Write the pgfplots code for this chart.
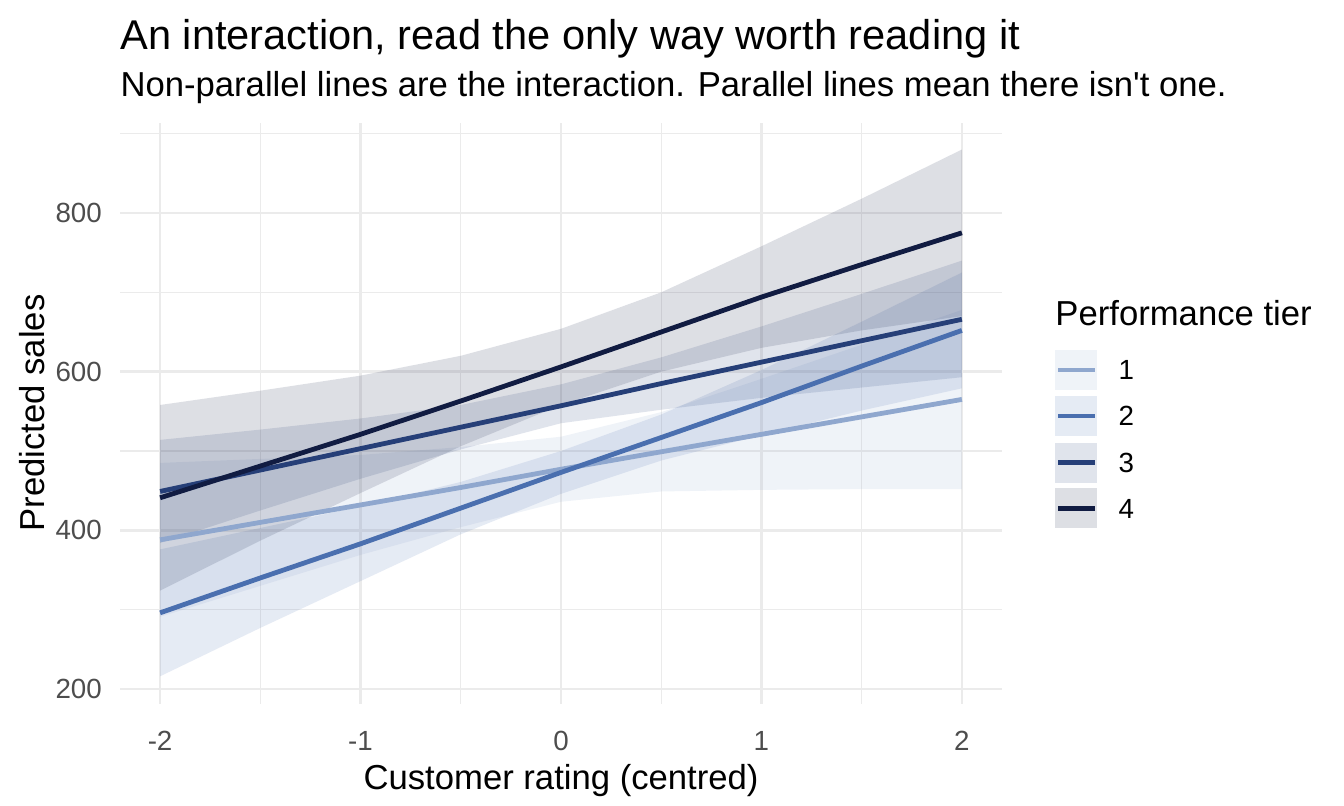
\documentclass[border=0pt]{standalone}
\usepackage{fontspec}
\setmainfont{Liberation Sans}
\usepackage{pgfplots}
\pgfplotsset{compat=1.18}
\usepackage{pgfplotstable}
\usepgfplotslibrary{fillbetween}
\definecolor{c1}{RGB}{143,167,206}
\definecolor{c2}{RGB}{74,111,175}
\definecolor{c3}{RGB}{38,63,120}
\definecolor{c4}{RGB}{17,28,66}
\definecolor{gridc}{RGB}{235,235,235}
\definecolor{tickc}{RGB}{77,77,77}

\pgfplotstableread{
x lo mid hi
-2 291 388 485
-1.5 330 410 490
-1 369 432 495
-0.5 404 454 505
0 436 477 518
0.5 449 499 549
1 451 521 591
1.5 452 543 634
2 452 565 678
}\tone
\pgfplotstableread{
x lo mid hi
-2 216 296 376
-1.5 277 340 403
-1 336 383 430
-0.5 395 428 461
0 446 473 500
0.5 488 517 546
1 520 561 602
1.5 551 607 663
2 579 652 725
}\ttwo
\pgfplotstableread{
x lo mid hi
-2 384 449 514
-1.5 425 476 527
-1 465 503 541
-0.5 502 530 558
0 535 557 584
0.5 552 585 618
1 567 612 657
1.5 580 639 698
2 593 666 740
}\tthree
\pgfplotstableread{
x lo mid hi
-2 324 441 558
-1.5 387 481 576
-1 447 521 595
-0.5 506 563 620
0 558 606 654
0.5 600 650 700
1 630 694 758
1.5 652 735 818
2 670 775 880
}\tfour

\begin{document}
\begin{tikzpicture}
\begin{axis}[
  at={(45pt,38.22pt)}, anchor=south west,
  scale only axis, width=330.75pt, height=218.07pt,
  xmin=-2.2, xmax=2.2, ymin=181, ymax=914,
  xtick={-2,-1,0,1,2}, xticklabels={-2,-1,0,1,2},
  minor xtick={-1.5,-0.5,0.5,1.5},
  ytick={200,400,600,800}, yticklabels={200,400,600,800},
  minor ytick={300,500,700,900},
  grid=both,
  major grid style={draw=gridc, line width=0.9pt},
  minor grid style={draw=gridc, line width=0.5pt},
  axis line style={draw=none},
  tick style={draw=none},
  xticklabel style={font=\fontsize{10.4}{12}\selectfont, text=tickc, yshift=-6.6pt},
  yticklabel style={font=\fontsize{10.4}{12}\selectfont, text=tickc, xshift=-3.3pt},
]
% ribbons
\addplot[name path=l1, draw=none, forget plot] table[x=x,y=lo]{\tone};
\addplot[name path=u1, draw=none, forget plot] table[x=x,y=hi]{\tone};
\addplot[fill=c1, fill opacity=0.14, draw=none, forget plot] fill between[of=l1 and u1];
\addplot[name path=l2, draw=none, forget plot] table[x=x,y=lo]{\ttwo};
\addplot[name path=u2, draw=none, forget plot] table[x=x,y=hi]{\ttwo};
\addplot[fill=c2, fill opacity=0.14, draw=none, forget plot] fill between[of=l2 and u2];
\addplot[name path=l3, draw=none, forget plot] table[x=x,y=lo]{\tthree};
\addplot[name path=u3, draw=none, forget plot] table[x=x,y=hi]{\tthree};
\addplot[fill=c3, fill opacity=0.14, draw=none, forget plot] fill between[of=l3 and u3];
\addplot[name path=l4, draw=none, forget plot] table[x=x,y=lo]{\tfour};
\addplot[name path=u4, draw=none, forget plot] table[x=x,y=hi]{\tfour};
\addplot[fill=c4, fill opacity=0.14, draw=none, forget plot] fill between[of=l4 and u4];
% lines
\addplot[c1, line width=1.8pt, no markers] table[x=x,y=mid]{\tone};
\addplot[c2, line width=1.8pt, no markers] table[x=x,y=mid]{\ttwo};
\addplot[c3, line width=1.8pt, no markers] table[x=x,y=mid]{\tthree};
\addplot[c4, line width=1.8pt, no markers] table[x=x,y=mid]{\tfour};
\end{axis}
% titles
\node[anchor=base west, inner sep=0, font=\fontsize{15.6}{18}\selectfont] at (45pt,283.5pt) {An interaction, read the only way worth reading it};
\node[anchor=base west, inner sep=0, font=\fontsize{13}{15}\selectfont] at (45pt,265.9pt) {Non-parallel lines are the interaction. Parallel lines mean there isn\textquotesingle t one.};
% axis titles
\node[anchor=base, inner sep=0, font=\fontsize{13}{15}\selectfont] at (210.4pt,6pt) {Customer rating (centred)};
\node[anchor=base, inner sep=0, rotate=90, font=\fontsize{13}{15}\selectfont] at (16.5pt,147.4pt) {Predicted sales};
% legend
\node[anchor=base west, inner sep=0, font=\fontsize{13}{15}\selectfont] at (395.6pt,180pt) {Performance tier};
\foreach \c/\lab/\yc in {c1/1/163.5, c2/2/146.25, c3/3/128.8, c4/4/111.6}{
  \fill[\c, opacity=0.14] (395.6pt,\yc pt-7.5pt) rectangle (411.4pt,\yc pt+7.5pt);
  \draw[\c, line width=1.8pt] (396.75pt,\yc pt) -- (410.6pt,\yc pt);
  \node[anchor=base west, inner sep=0, font=\fontsize{10.4}{12}\selectfont] at (419.25pt,\yc pt-3.75pt) {\lab};
}
\path (0,0) rectangle (504pt,302.25pt);
\end{tikzpicture}
\end{document}
